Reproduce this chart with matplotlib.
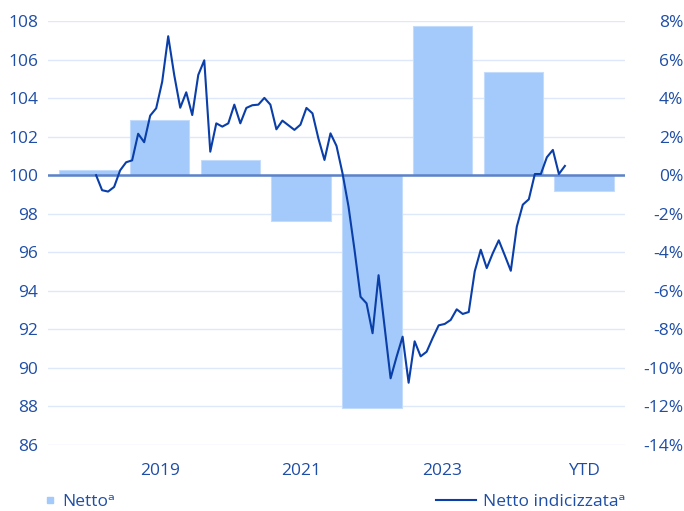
import matplotlib
matplotlib.use("Agg")
import matplotlib.pyplot as plt
from matplotlib.lines import Line2D
import numpy as np

plt.rcParams['axes.unicode_minus'] = False

# ---- data ----
bar_labels = ["2018", "2019", "2020", "2021", "2022", "2023", "2024", "YTD"]
bar_values = [0.25, 2.85, 0.8, -2.4, -12.1, 7.75, 5.35, -0.8]   # percent
tick_labels = ["2019", "2021", "2023", "YTD"]
tick_idx = [1, 3, 5, 7]

line_values = [
    100.0, 99.22, 99.15, 99.39, 100.25, 100.67, 100.77, 102.15, 101.71, 103.09,
    103.47, 104.85, 107.21, 105.2, 103.5, 104.3, 103.12, 105.2, 105.96, 101.22,
    102.69, 102.52, 102.69, 103.66, 102.69, 103.49, 103.63, 103.66, 104.01, 103.66,
    102.38, 102.83, 102.59, 102.35, 102.62, 103.49, 103.21, 101.89, 100.79, 102.17,
    101.52, 100.1, 98.37, 96.12, 93.69, 93.35, 91.8, 94.81, 92.14, 89.46,
    90.58, 91.62, 89.23, 91.38, 90.6, 90.84, 91.55, 92.21, 92.28, 92.49,
    93.04, 92.8, 92.9, 95.01, 96.13, 95.18, 95.95, 96.62, 95.84, 95.04,
    97.33, 98.47, 98.75, 100.06, 100.06, 100.93, 101.31, 100.06, 100.48,
]
left_ticks = list(range(86, 109, 2))
right_ticks = list(range(-14, 9, 2))

# ---- style ----
BAR_C = "#a3cafa"
LINE_C = "#0a3ea8"
TEXT_C = "#1f4ea6"
ZERO_C = "#5c82c8"
GRID_C = "#dde9fb"
FONT = ["Open Sans", "DejaVu Sans"]
plt.rcParams['font.family'] = FONT
FS = 12.5

fig = plt.figure(figsize=(6.84, 5.11), dpi=100)
W, H = 684, 511
ax = fig.add_axes([48 / W, (H - 445) / H, 577 / W, 424 / H])
ax2 = ax.twinx()

x_bar = np.arange(len(bar_values))
ax2.bar(x_bar, bar_values, width=0.84, color=BAR_C, edgecolor="#c3dcfb", linewidth=0.8, zorder=2)
ax2.set_ylim(-14, 8)
ax2.axhline(0, color=ZERO_C, lw=1.8, zorder=3)

# line drawn on top
ax.set_zorder(ax2.get_zorder() + 1)
ax.patch.set_visible(False)
x_line = 0.10 + 0.085 * np.arange(len(line_values))
ax.plot(x_line, line_values, color=LINE_C, lw=1.5, zorder=4)
ax.set_ylim(86, 108)
ax.set_xlim(-0.58, 7.58)

# grid
for v in left_ticks:
    ax2.axhline(v - 100, color=GRID_C, lw=1.0, zorder=0)

ax.set_yticks(left_ticks)
ax.set_yticklabels([str(v) for v in left_ticks])
ax2.set_yticks(right_ticks)
ax2.set_yticklabels([f"{v}%" for v in right_ticks], ha="right")
ax.set_xticks(tick_idx)
ax.set_xticklabels(tick_labels)

for a in (ax, ax2):
    for s in a.spines.values():
        s.set_visible(False)
    a.tick_params(length=0, colors=TEXT_C, labelsize=FS)
ax.tick_params(axis="y", pad=7)
ax.tick_params(axis="x", pad=13)
ax2.tick_params(axis="y", pad=42)

# legends
dy = -9 / H
h1 = [Line2D([0], [0], marker="s", color="none", markerfacecolor=BAR_C,
             markeredgecolor=BAR_C, markersize=5)]
fig.legend(h1, ["Nettoᵃ"], loc="lower left", bbox_to_anchor=(34 / W, dy),
           frameon=False, fontsize=FS, handlelength=0.6, handletextpad=0.4,
           borderaxespad=0.2, labelcolor=TEXT_C)
h2 = [Line2D([0], [0], color=LINE_C, lw=1.5)]
fig.legend(h2, ["Netto indicizzataᵃ"], loc="lower right", bbox_to_anchor=((W - 48) / W, dy),
           frameon=False, fontsize=FS, handlelength=2.3, handletextpad=0.4,
           borderaxespad=0.2, labelcolor=TEXT_C)

fig.savefig("out.png", dpi=100)
